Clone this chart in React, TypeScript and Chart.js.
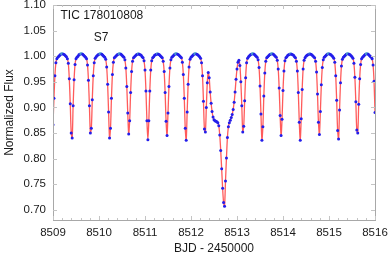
import React, { useEffect, useRef } from 'react';
import { Chart, registerables } from 'chart.js';

Chart.register(...registerables);

// ---- data ----
const BJD_START = 8509; // BJD - 2450000 of first sample
const CADENCE_DAYS = 1 / 48; // 30-min FFI cadence

const FLUX: number[] = [
  // 8509.00 ..
  0.866, 0.918, 0.962, 0.987, 0.995, 0.998, 1.000, 1.002, 1.004, 1.005,
  1.005, 1.004, 1.003, 1.001, 0.999, 0.995, 0.986, 0.956, 0.907, 0.850, 0.840, 0.903, 0.954, 0.984, 0.995, 0.998, 1.000, 1.003, 1.004, 1.005,
  1.005, 1.004, 1.002, 1.000, 0.998, 0.995, 0.983, 0.953, 0.903, 0.850, 0.859, 0.915, 0.962, 0.987, 0.996, 0.999, 1.001, 1.003, 1.004, 1.005,
  1.005, 1.004, 1.002, 1.000, 0.998, 0.994, 0.979, 0.945, 0.891, 0.840, 0.859, 0.918, 0.964, 0.988, 0.997, 0.999, 1.001, 1.003, 1.004, 1.005,
  1.005, 1.004, 1.002, 1.000, 0.998, 0.993, 0.977, 0.941, 0.889, 0.848, 0.874, 0.929, 0.970, 0.990, 0.997, 0.999, 1.001, 1.003, 1.004, 1.005,
  1.004, 1.003, 1.002, 0.999, 0.997, 0.991, 0.973, 0.932, 0.874, 0.837, 0.874, 0.932, 0.973, 0.991, 0.997, 0.999, 1.002, 1.003, 1.004,
  1.005, 1.004, 1.003, 1.001, 0.999, 0.997, 0.990, 0.970, 0.929, 0.873, 0.845, 0.889, 0.941, 0.977, 0.993, 0.998, 1.000, 1.002, 1.004, 1.005,
  1.005, 1.004, 1.003, 1.001, 0.999, 0.997, 0.988, 0.964, 0.918, 0.859, 0.836, 0.891, 0.945, 0.979, 0.994, 0.998, 1.000, 1.002, 1.004, 1.005,
  1.005, 1.004, 1.003, 1.001, 0.999, 0.996, 0.987, 0.962, 0.912, 0.858, 0.852, 0.900, 0.948, 0.968,
  // deep event near 8512.7
  0.958, 0.930, 0.908, 0.892, 0.881, 0.876, 0.874, 0.873, 0.872, 0.870, 0.864, 0.846, 0.816,
  0.780, 0.742, 0.714, 0.707, 0.756, 0.801, 0.841, 0.862, 0.870, 0.875, 0.880, 0.886, 0.896,
  0.910, 0.930, 0.955, 0.975, 0.988, 0.992, 0.982, 0.950, 0.903, 0.852, 0.863, 0.913, 0.958, 0.987, 0.996, 0.999, 1.001, 1.003, 1.004, 1.005,
  1.005, 1.004, 1.002, 1.000, 0.998, 0.993, 0.978, 0.942, 0.887, 0.836, 0.862, 0.922, 0.967, 0.990, 0.997, 0.999, 1.001, 1.003, 1.004, 1.005,
  1.005, 1.004, 1.002, 1.000, 0.998, 0.992, 0.975, 0.938, 0.884, 0.845, 0.877, 0.933, 0.971, 0.991, 0.997, 0.999, 1.002, 1.003, 1.004, 1.005,
  1.004, 1.003, 1.002, 0.999, 0.997, 0.990, 0.971, 0.929, 0.871, 0.836, 0.878, 0.935, 0.975, 0.992, 0.997, 1.000, 1.002, 1.003, 1.004,
  1.005, 1.004, 1.003, 1.001, 0.999, 0.997, 0.990, 0.969, 0.926, 0.871, 0.847, 0.892, 0.944, 0.978, 0.993, 0.998, 1.000, 1.002, 1.004, 1.005,
  1.005, 1.004, 1.003, 1.001, 0.999, 0.996, 0.988, 0.962, 0.914, 0.855, 0.838, 0.895, 0.948, 0.981, 0.994, 0.998, 1.000, 1.002, 1.004, 1.005,
  1.005, 1.004, 1.003, 1.001, 0.999, 0.996, 0.986, 0.959, 0.911, 0.856, 0.850, 0.906, 0.956, 0.984, 0.995, 0.998, 1.000, 1.002, 1.004, 1.005,
  1.005, 1.004, 1.002, 1.000, 0.998, 0.995, 0.983, 0.951, 0.890,
];

const X_TICKS = [8509, 8510, 8511, 8512, 8513, 8514, 8515, 8516];
const Y_TICKS = [0.70, 0.75, 0.80, 0.85, 0.90, 0.95, 1.00, 1.05, 1.10];
const X_MIN = 8509;
const X_MAX = 8516;
const Y_MIN = 0.68;
const Y_MAX = 1.10;
const STAR_LABEL = 'TIC 178010808';
const SECTOR_LABEL = 'S7';
const X_TITLE = 'BJD - 2450000';
const Y_TITLE = 'Normalized Flux';

const FONT = 'Liberation Sans, Arial, Helvetica, sans-serif';
const TEXT = '#1a1a1a';
const FRAME = '#a8a8a8';

const framePlugin = {
  id: 'frameAndLabels',
  afterDraw(chart: any) {
    const { ctx, chartArea: a, scales } = chart;
    const xs = scales.x;
    const ys = scales.y;
    ctx.save();
    ctx.strokeStyle = FRAME;
    ctx.lineWidth = 1;
    ctx.strokeRect(Math.round(a.left) + 0.5, Math.round(a.top) + 0.5, Math.round(a.right - a.left), Math.round(a.bottom - a.top));
    ctx.strokeStyle = '#c4c4c4';
    ctx.beginPath();
    for (let v = X_MIN; v <= X_MAX + 1e-9; v += 0.2) {
      const major = Math.abs(v - Math.round(v)) < 1e-6;
      const len = major ? 4 : 2;
      const px = Math.round(xs.getPixelForValue(v)) + 0.5;
      ctx.moveTo(px, a.bottom);
      ctx.lineTo(px, a.bottom - len);
      ctx.moveTo(px, a.top);
      ctx.lineTo(px, a.top + len);
    }
    for (const v of Y_TICKS) {
      const py = Math.round(ys.getPixelForValue(v)) + 0.5;
      ctx.moveTo(a.left, py);
      ctx.lineTo(a.left + 4, py);
      ctx.moveTo(a.right, py);
      ctx.lineTo(a.right - 4, py);
    }
    ctx.stroke();
    ctx.fillStyle = TEXT;
    ctx.font = `12px ${FONT}`;
    ctx.textBaseline = 'middle';
    ctx.textAlign = 'left';
    ctx.fillText(STAR_LABEL, 60.5, 16);
    ctx.textAlign = 'center';
    ctx.fillText(SECTOR_LABEL, 101, 38);
    ctx.restore();
  },
};

export default function App() {
  const ref = useRef<HTMLCanvasElement>(null);

  useEffect(() => {
    document.body.style.margin = '0';
    const points = FLUX.map((f, i) => ({ x: BJD_START + i * CADENCE_DAYS, y: f }));
    const chart = new Chart(ref.current as HTMLCanvasElement, {
      type: 'line',
      data: {
        datasets: [
          {
            data: points,
            borderColor: 'rgba(255,50,50,0.8)',
            borderWidth: 1.3,
            tension: 0.3,
            pointRadius: 1.5,
            pointBorderWidth: 0,
            pointBackgroundColor: (c: any) => {
              const y = c.raw && typeof c.raw.y === 'number' ? c.raw.y : 0;
              return y >= 1.005 ? 'rgb(70,150,205)' : 'rgb(35,30,235)';
            },
            clip: 0,
          } as any,
        ],
      },
      options: {
        animation: false,
        responsive: false,
        maintainAspectRatio: false,
        layout: { padding: { top: 5, right: 15, left: 0, bottom: 0 } },
        plugins: { legend: { display: false }, tooltip: { enabled: false } },
        scales: {
          x: {
            type: 'linear',
            min: X_MIN,
            max: X_MAX,
            grid: { display: false, drawTicks: false },
            border: { display: false },
            afterBuildTicks: (s: any) => {
              s.ticks = X_TICKS.map((v) => ({ value: v }));
            },
            ticks: {
              padding: 6,
              color: TEXT,
              font: { family: FONT, size: 11.5 },
              maxRotation: 0,
              autoSkip: false,
              callback: (v: any) => String(v),
            },
            title: {
              display: true,
              text: X_TITLE,
              color: TEXT,
              font: { family: FONT, size: 12 },
              padding: { top: 0, bottom: 0 },
            },
            afterFit: (s: any) => {
              s.height = 36;
              s.paddingLeft = 0;
              s.paddingRight = 0;
            },
          },
          y: {
            type: 'linear',
            min: Y_MIN,
            max: Y_MAX,
            grid: { display: false, drawTicks: false },
            border: { display: false },
            afterBuildTicks: (s: any) => {
              s.ticks = Y_TICKS.map((v) => ({ value: v }));
            },
            ticks: {
              padding: 7,
              color: TEXT,
              font: { family: FONT, size: 11.5 },
              autoSkip: false,
              callback: (v: any) => Number(v).toFixed(2),
            },
            title: {
              display: true,
              text: Y_TITLE,
              color: TEXT,
              font: { family: FONT, size: 12 },
              padding: { top: 2, bottom: 0 },
            },
            afterFit: (s: any) => {
              s.width = 53;
              s.paddingTop = 0;
              s.paddingBottom = 0;
            },
          },
        },
      },
      plugins: [framePlugin],
    } as any);
    return () => chart.destroy();
  }, []);

  return <canvas ref={ref} width={390} height={256} style={{ display: 'block' }} />;
}
